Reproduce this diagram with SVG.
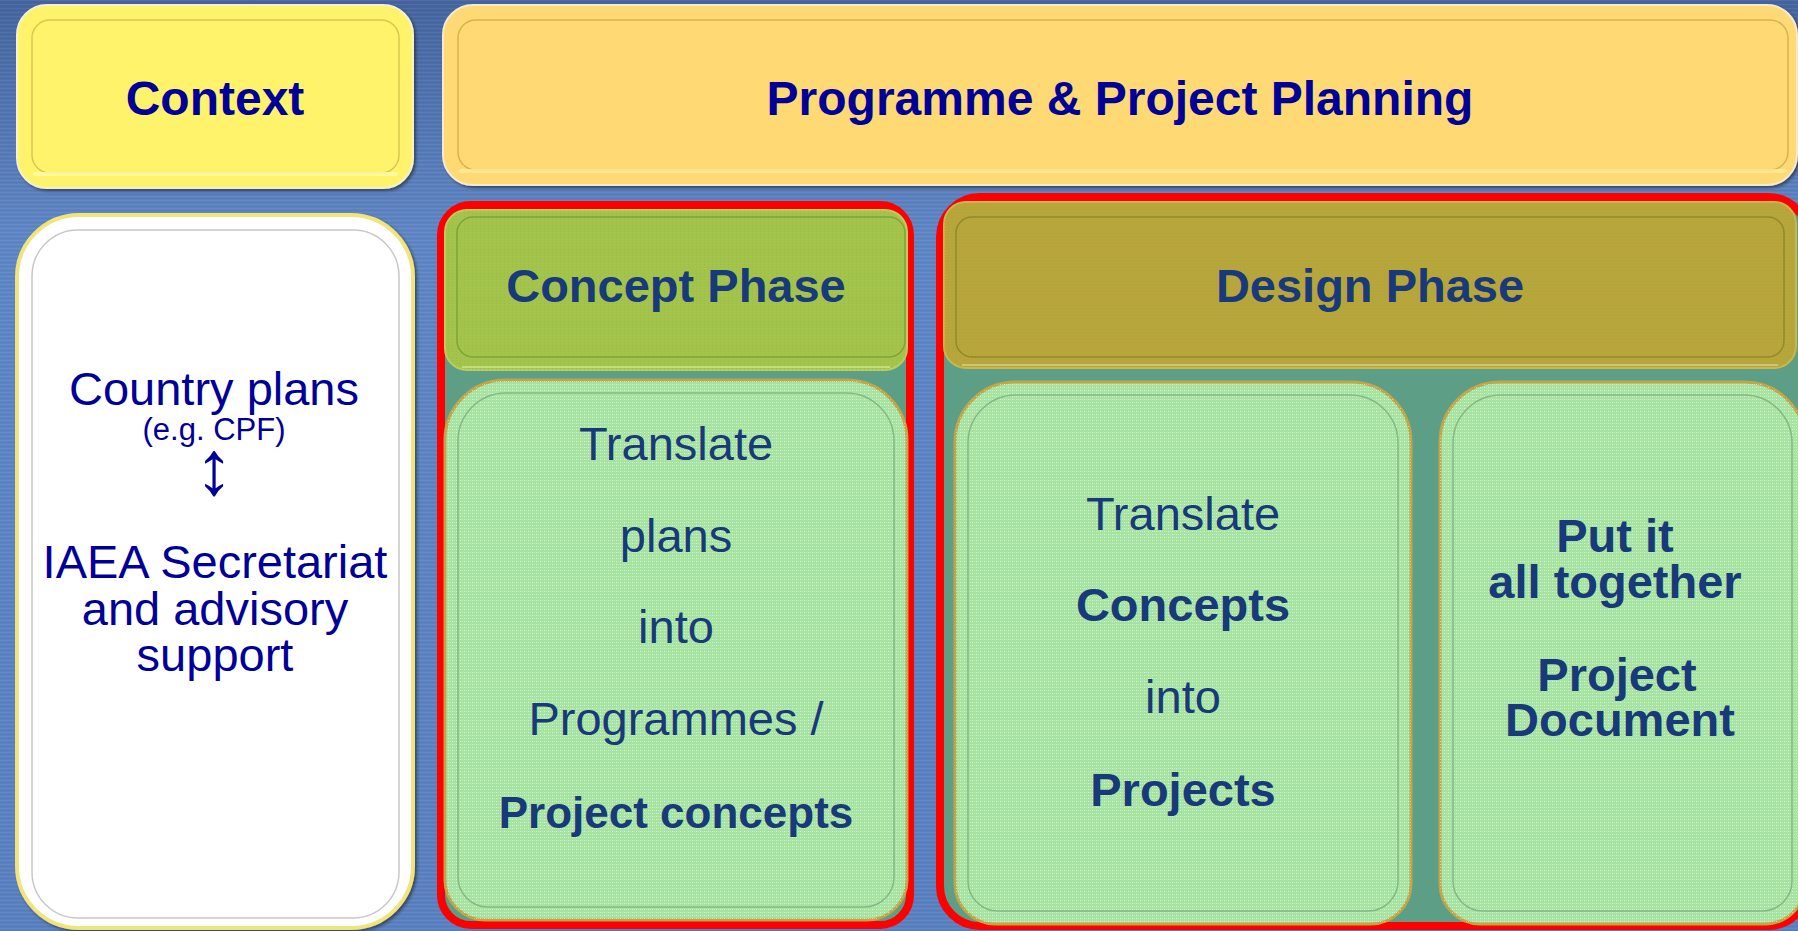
<svg xmlns="http://www.w3.org/2000/svg" width="1798" height="931" viewBox="0 0 1798 931">
<defs>
  <linearGradient id="bg" x1="0" y1="0" x2="0" y2="1">
    <stop offset="0" stop-color="#45649f"/>
    <stop offset="0.25" stop-color="#5f86c4"/>
    <stop offset="1" stop-color="#5a80bf"/>
  </linearGradient>
  <pattern id="stripes" patternUnits="userSpaceOnUse" width="8" height="4">
    <rect width="8" height="1" fill="#ffffff" opacity="0.06"/>
    <rect y="2" width="8" height="1" fill="#203a70" opacity="0.08"/>
  </pattern>
  <pattern id="dots" patternUnits="userSpaceOnUse" width="4" height="3">
    <rect width="1" height="1" fill="#ffffff" opacity="0.55"/>
    <rect x="2" width="1" height="1" fill="#ffffff" opacity="0.3"/>
  </pattern>
  <pattern id="odots" patternUnits="userSpaceOnUse" width="4" height="3">
    <rect width="1" height="1" fill="#f08a30" opacity="0.55"/>
    <rect x="2" y="1" width="1" height="1" fill="#f0a040" opacity="0.35"/>
  </pattern>
  <filter id="sh" x="-5%" y="-5%" width="110%" height="110%">
    <feDropShadow dx="2" dy="2" stdDeviation="1.5" flood-color="#1a1a1a" flood-opacity="0.6"/>
  </filter>
</defs>
<style>
  text { font-family: "Liberation Sans", Arial, sans-serif; text-anchor: middle; }
  .ttl { font-size: 48px; font-weight: bold; fill: #000099; }
  .ctx { font-size: 47px; fill: #000099; }
  .small { font-size: 31px; fill: #000099; }
  .hd { font-size: 47px; font-weight: bold; fill: #18397a; }
  .r { font-size: 47px; fill: #18397a; }
  .b { font-size: 47px; font-weight: bold; fill: #18397a; }
  .b44 { font-size: 44px; font-weight: bold; fill: #18397a; }
  .inner { fill: none; stroke-width: 1.5; }
  .red { fill: #5c9e86; stroke: #ff0000; stroke-width: 8; }
  .green { fill: #a6e3a0; stroke: #c2a548; stroke-width: 3; }
</style>

<rect width="1798" height="931" fill="url(#bg)"/>
<rect width="1798" height="931" fill="url(#stripes)"/>

<g id="context">
  <rect x="17" y="5" width="396" height="183" rx="30" fill="#fff36c" stroke="#f4f1d0" stroke-width="2" filter="url(#sh)"/>
  <rect x="32" y="20" width="367" height="153" rx="18" class="inner" stroke="#d9c850"/>
  <rect x="33" y="172" width="365" height="4" rx="2" fill="#fffab0" opacity="0.8"/>
  <text class="ttl" x="215" y="115">Context</text>
</g>

<g id="planning">
  <rect x="443" y="5" width="1354" height="180" rx="30" fill="#ffd973" stroke="#f4ead0" stroke-width="2" filter="url(#sh)"/>
  <rect x="458" y="20" width="1330" height="150" rx="18" class="inner" stroke="#d8b450"/>
  <rect x="459" y="169" width="1328" height="4" rx="2" fill="#ffeb9c" opacity="0.8"/>
  <text class="ttl" x="1120" y="115">Programme &amp; Project Planning</text>
</g>

<g id="context-detail">
  <rect x="17" y="215" width="396" height="713" rx="62" fill="#ffffff" stroke="#f0e47a" stroke-width="4" filter="url(#sh)"/>
  <rect x="32" y="230" width="367" height="688" rx="46" class="inner" stroke="#c8c8c8"/>
  <text class="ctx" x="214" y="405">Country plans</text>
  <text class="small" x="214" y="440">(e.g. CPF)</text>
  <text class="ctx" x="214" y="494" style="font-size:77px">↕</text>
  <text class="ctx" x="215" y="578">IAEA Secretariat</text>
  <text class="ctx" x="215" y="625">and advisory</text>
  <text class="ctx" x="215" y="671">support</text>
</g>

<g id="concept-phase">
  <rect x="441" y="205" width="469" height="720" rx="30" class="red"/>
  <rect x="445" y="210" width="462" height="160" rx="22" fill="#9cc74c" stroke="#b8cf60" stroke-width="2"/>
  <rect x="445" y="210" width="462" height="160" rx="22" fill="url(#odots)"/>
  <rect x="457" y="217" width="448" height="140" rx="16" class="inner" stroke="#7fa23c"/>
  <path d="M462,367 H890" stroke="#d8f0a0" stroke-width="2" opacity="0.6"/>
  <text class="hd" x="676" y="302">Concept Phase</text>
  <path d="M445,440 A60,60 0 0 1 505,380 H847 A60,60 0 0 1 907,440 V880 A40,40 0 0 1 867,920 H485 A40,40 0 0 1 445,880 Z" class="green"/>
  <path d="M445,440 A60,60 0 0 1 505,380 H847 A60,60 0 0 1 907,440 V880 A40,40 0 0 1 867,920 H485 A40,40 0 0 1 445,880 Z" fill="url(#dots)"/>
  <path d="M458,441 A48,48 0 0 1 506,393 H846 A48,48 0 0 1 894,441 V877 A30,30 0 0 1 864,907 H488 A30,30 0 0 1 458,877 Z" class="inner" stroke="#86b886"/>
  <text class="r" x="676" y="460">Translate</text>
  <text class="r" x="676" y="552">plans</text>
  <text class="r" x="676" y="643">into</text>
  <text class="r" x="676" y="735">Programmes /</text>
  <text class="b44" x="676" y="828">Project concepts</text>
</g>

<g id="design-phase">
  <rect x="940" y="197" width="868" height="729" rx="40" class="red"/>
  <rect x="944" y="202" width="852" height="166" rx="22" fill="#b2a73a" stroke="#c4b84e" stroke-width="2"/>
  <rect x="944" y="202" width="852" height="166" rx="22" fill="url(#odots)"/>
  <rect x="956" y="217" width="828" height="140" rx="16" class="inner" stroke="#8f8a2c"/>
  <path d="M962,365 H1778" stroke="#e0e0a0" stroke-width="2" opacity="0.55"/>
  <text class="hd" x="1370" y="302">Design Phase</text>

  <path d="M955,442 A60,60 0 0 1 1015,382 H1351 A60,60 0 0 1 1411,442 V884 A40,40 0 0 1 1371,924 H995 A40,40 0 0 1 955,884 Z" class="green"/>
  <path d="M955,442 A60,60 0 0 1 1015,382 H1351 A60,60 0 0 1 1411,442 V884 A40,40 0 0 1 1371,924 H995 A40,40 0 0 1 955,884 Z" fill="url(#dots)"/>
  <path d="M968,443 A48,48 0 0 1 1016,395 H1350 A48,48 0 0 1 1398,443 V881 A30,30 0 0 1 1368,911 H998 A30,30 0 0 1 968,881 Z" class="inner" stroke="#86b886"/>
  <text class="r" x="1183" y="530">Translate</text>
  <text class="b" x="1183" y="621">Concepts</text>
  <text class="r" x="1183" y="713">into</text>
  <text class="b" x="1183" y="806">Projects</text>

  <path d="M1440,442 A60,60 0 0 1 1500,382 H1745 A60,60 0 0 1 1805,442 V884 A40,40 0 0 1 1765,924 H1480 A40,40 0 0 1 1440,884 Z" class="green"/>
  <path d="M1440,442 A60,60 0 0 1 1500,382 H1745 A60,60 0 0 1 1805,442 V884 A40,40 0 0 1 1765,924 H1480 A40,40 0 0 1 1440,884 Z" fill="url(#dots)"/>
  <path d="M1453,443 A48,48 0 0 1 1501,395 H1744 A48,48 0 0 1 1792,443 V881 A30,30 0 0 1 1762,911 H1483 A30,30 0 0 1 1453,881 Z" class="inner" stroke="#86b886"/>
  <text class="b" x="1615" y="552">Put it</text>
  <text class="b" x="1615" y="598">all together</text>
  <text class="b" x="1617" y="691">Project</text>
  <text class="b" x="1620" y="736">Document</text>
</g>

<g id="connectors"/>
</svg>
